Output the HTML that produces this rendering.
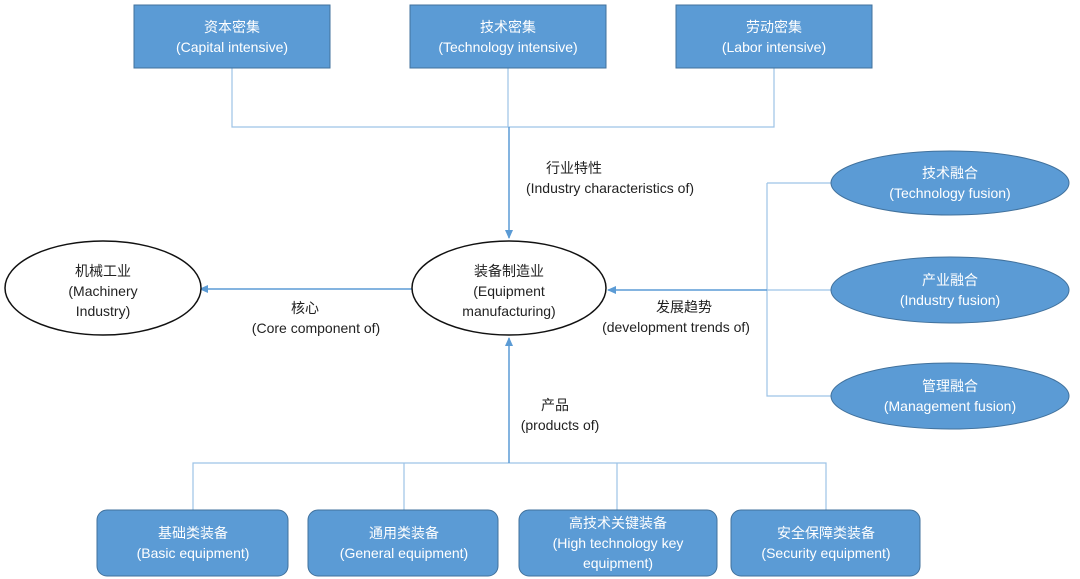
<!DOCTYPE html>
<html><head><meta charset="utf-8"><style>
html,body{margin:0;padding:0;background:#fff;}
svg{display:block;}
text{font-family:"Liberation Sans","Noto Sans CJK SC",sans-serif;font-size:14px;}
.w{fill:#fff;}
.k{fill:#222;}
</style></head><body>
<svg width="1080" height="579" viewBox="0 0 1080 579" xmlns="http://www.w3.org/2000/svg">
<defs>
<marker id="a" markerWidth="10" markerHeight="10" refX="8" refY="5" orient="auto" markerUnits="userSpaceOnUse">
<path d="M0,1 L9,5 L0,9 z" fill="#5b9bd5"/></marker>
</defs>
<g stroke="#9dc3e6" stroke-width="1.2" fill="none">
<path d="M232,68 V127 H774 V68 M508,68 V127"/>
<path d="M767,183 H831 M767,183 V396 H831 M767,290 H831"/>
<path d="M193,510 V463 H826 V510 M404,463 V510 M617,463 V510"/>
</g>
<g stroke="#5b9bd5" stroke-width="1.5" fill="none">
<path d="M509,127 V238" marker-end="url(#a)"/>
<path d="M412,289 H200" marker-end="url(#a)"/>
<path d="M767,290 H608" marker-end="url(#a)"/>
<path d="M509,463 V338" marker-end="url(#a)"/>
</g>
<g fill="#5b9bd5" stroke="#41719c" stroke-width="1">
<rect x="134" y="5" width="196" height="63"/>
<rect x="410" y="5" width="196" height="63"/>
<rect x="676" y="5" width="196" height="63"/>
<ellipse cx="950" cy="183" rx="119" ry="32"/>
<ellipse cx="950" cy="290" rx="119" ry="33"/>
<ellipse cx="950" cy="396" rx="119" ry="33"/>
<rect x="97" y="510" width="191" height="66" rx="10"/>
<rect x="308" y="510" width="190" height="66" rx="10"/>
<rect x="519" y="510" width="198" height="66" rx="10"/>
<rect x="731" y="510" width="189" height="66" rx="10"/>
</g>
<g fill="#fff" stroke="#111" stroke-width="1.5">
<ellipse cx="509" cy="288" rx="97" ry="47"/>
<ellipse cx="103" cy="288" rx="98" ry="47"/>
</g>
<g text-anchor="middle" class="w">
<text x="232" y="32" class="w">资本密集</text><text x="232" y="52" class="w">(Capital intensive)</text>
<text x="508" y="32" class="w">技术密集</text><text x="508" y="52" class="w">(Technology intensive)</text>
<text x="774" y="32" class="w">劳动密集</text><text x="774" y="52" class="w">(Labor intensive)</text>
<text x="950" y="178" class="w">技术融合</text><text x="950" y="198" class="w">(Technology fusion)</text>
<text x="950" y="285" class="w">产业融合</text><text x="950" y="305" class="w">(Industry fusion)</text>
<text x="950" y="391" class="w">管理融合</text><text x="950" y="411" class="w">(Management fusion)</text>
<text x="193" y="538" class="w">基础类装备</text><text x="193" y="558" class="w">(Basic equipment)</text>
<text x="404" y="538" class="w">通用类装备</text><text x="404" y="558" class="w">(General equipment)</text>
<text x="618" y="528" class="w">高技术关键装备</text><text x="618" y="548" class="w">(High technology key</text><text x="618" y="568" class="w">equipment)</text>
<text x="826" y="538" class="w">安全保障类装备</text><text x="826" y="558" class="w">(Security equipment)</text>
</g>
<g text-anchor="middle">
<text x="509" y="276" class="k">装备制造业</text><text x="509" y="296" class="k">(Equipment</text><text x="509" y="316" class="k">manufacturing)</text>
<text x="103" y="276" class="k">机械工业</text><text x="103" y="296" class="k">(Machinery</text><text x="103" y="316" class="k">Industry)</text>
<text x="574" y="173" class="k">行业特性</text><text x="610" y="193" class="k">(Industry characteristics of)</text>
<text x="305" y="313" class="k">核心</text><text x="316" y="333" class="k">(Core component of)</text>
<text x="684" y="312" class="k">发展趋势</text><text x="676" y="332" class="k">(development trends of)</text>
<text x="555" y="410" class="k">产品</text><text x="560" y="430" class="k">(products of)</text>
</g>
</svg>
</body></html>
